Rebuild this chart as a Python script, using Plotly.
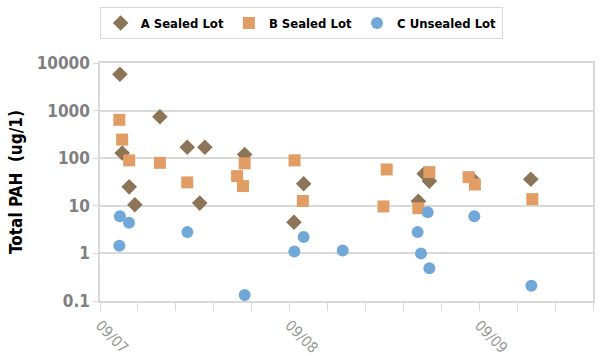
import plotly.graph_objects as go

# Sampling time in days after 09/07 00:00, concentrations in ug/l
a_days = [0.105, 0.117, 0.154, 0.184, 0.316, 0.460, 0.526, 0.553, 0.763, 1.023, 1.074,
          1.679, 1.710, 1.737, 1.965, 2.272]
a_vals = [5800, 129, 25, 10.5, 740, 170, 11.4, 170, 120, 4.5, 29,
          12.5, 47, 33, 36, 36]

b_days = [0.102, 0.117, 0.154, 0.316, 0.460, 0.723, 0.754, 0.763, 1.026, 1.070,
          1.495, 1.512, 1.679, 1.737, 1.944, 1.977, 2.280]
b_vals = [640, 246, 90, 80, 31, 42, 26, 78, 90, 12.6,
          9.7, 58, 8.9, 51, 40, 28, 13.8]

c_days = [0.102, 0.105, 0.153, 0.461, 0.763, 1.025, 1.074, 1.280,
          1.675, 1.693, 1.728, 1.737, 1.974, 2.275]
c_vals = [1.45, 6.0, 4.4, 2.8, 0.133, 1.1, 2.2, 1.15,
          2.8, 1.0, 7.3, 0.49, 6.0, 0.21]

tick_days = [0, 0.2, 0.4, 0.6, 0.8, 1.0, 1.2, 1.4, 1.6, 1.8, 2.0, 2.2, 2.4, 2.6]
tick_text = ["09/07", "", "", "", "", "09/08", "", "", "", "", "09/09", "", "", ""]

y_ticks = [0.1, 1, 10, 100, 1000, 10000]
y_text = ["0.1", "1", "10", "100", "1000", "10000"]

FONT = "DejaVu Sans Condensed, Liberation Sans Narrow, Roboto, sans-serif"

fig = go.Figure()
fig.add_trace(go.Scatter(x=a_days, y=a_vals, mode="markers", name="A Sealed Lot",
                         marker=dict(symbol="diamond", size=12, color="#8C7457")))
fig.add_trace(go.Scatter(x=b_days, y=b_vals, mode="markers", name="B Sealed Lot",
                         marker=dict(symbol="square", size=12, color="#E19D63")))
fig.add_trace(go.Scatter(x=c_days, y=c_vals, mode="markers", name="C Unsealed Lot",
                         marker=dict(symbol="circle", size=12, color="#72A8D8")))

fig.update_layout(
    width=600, height=356,
    margin=dict(l=100, r=7, t=61, b=55),
    paper_bgcolor="white", plot_bgcolor="white",
    font=dict(family=FONT),
    legend=dict(orientation="h", x=0.408, xanchor="center", y=1.235, yanchor="top",
                bordercolor="#d9d9d9", borderwidth=1,
                font=dict(size=13, color="#000000", family=FONT, weight="bold"),
                itemwidth=30, tracegroupgap=0),
    xaxis=dict(range=[0, 2.6], tickvals=tick_days, ticktext=tick_text,
               tickangle=45, ticks="outside", ticklen=8, tickcolor="#d9d9d9",
               showline=True, linecolor="#d9d9d9", linewidth=1.5, mirror=True,
               showgrid=False, zeroline=False, automargin=False,
               tickfont=dict(size=15, color="#999999")),
    yaxis=dict(type="log", range=[-1, 4], tickvals=y_ticks, ticktext=y_text,
               showline=True, linecolor="#d9d9d9", linewidth=1.5, mirror=True,
               showgrid=True, gridcolor="#d9d9d9", gridwidth=1.5,
               ticks="outside", ticklen=5, tickcolor="#d9d9d9", automargin=False,
               tickfont=dict(size=17, color="#808080", family=FONT, weight="bold"),
               title=dict(text="Total PAH  (ug/1)", standoff=10,
                          font=dict(size=17, color="#000000", weight="bold"))),
)

fig.write_html("out.html")
